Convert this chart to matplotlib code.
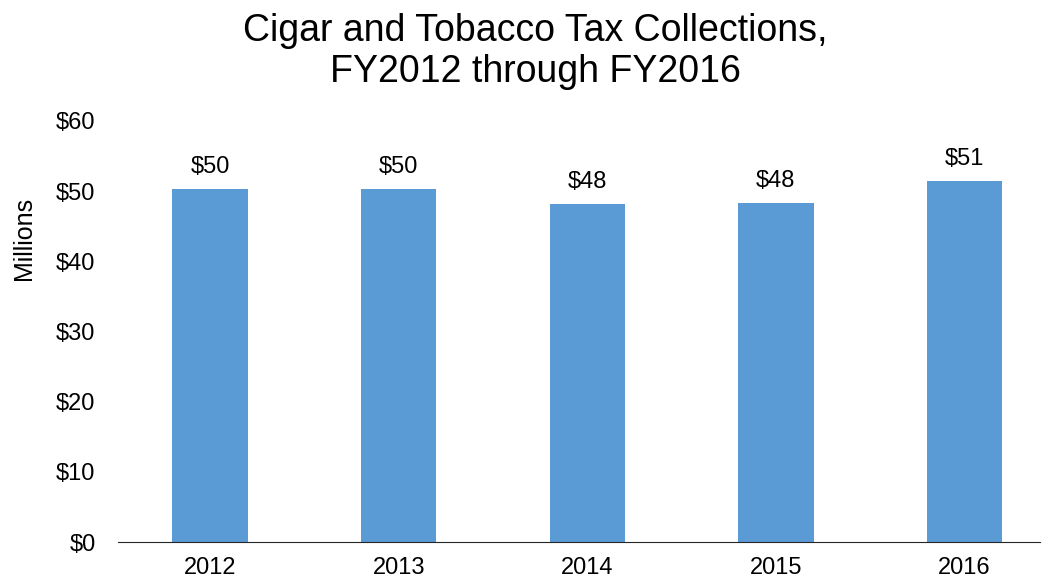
import matplotlib
matplotlib.use("Agg")
import matplotlib.pyplot as plt

years = ["2012", "2013", "2014", "2015", "2016"]
collections = [50.3, 50.3, 48.1, 48.3, 51.4]
labels = ["$50", "$50", "$48", "$48", "$51"]
yticks = [0, 10, 20, 30, 40, 50, 60]

plt.rcParams["font.family"] = ["Liberation Sans", "DejaVu Sans"]

fig = plt.figure(figsize=(10.42, 5.81), dpi=100)
ax = fig.add_axes([0.113, 0.067, 0.885, 0.725])

x = range(len(years))
ax.bar(x, collections, width=0.40, color="#5B9BD5")
for xi, v, lab in zip(x, collections, labels):
    ax.text(xi, v + 2.3, lab, ha="center", va="baseline", fontsize=17)

ax.set_xlim(-0.49, 4.4)
ax.set_ylim(0, 60)
ax.set_xticks(list(x))
ax.set_xticklabels(years, fontsize=17)
ax.set_yticks(yticks)
ax.set_yticklabels(["$%d" % t for t in yticks], fontsize=17)
ax.tick_params(axis="y", length=0, pad=16)
ax.tick_params(axis="x", length=0, pad=11)
ax.set_ylabel("Millions", fontsize=18)
ax.yaxis.set_label_coords(-0.089, 0.722)

for side in ["top", "right", "left"]:
    ax.spines[side].set_visible(False)
ax.spines["bottom"].set_color("#262626")

fig.suptitle("Cigar and Tobacco Tax Collections,\nFY2012 through FY2016",
             fontsize=27, x=0.514, y=0.977, linespacing=1.15)

fig.savefig("out.png", dpi=100)
